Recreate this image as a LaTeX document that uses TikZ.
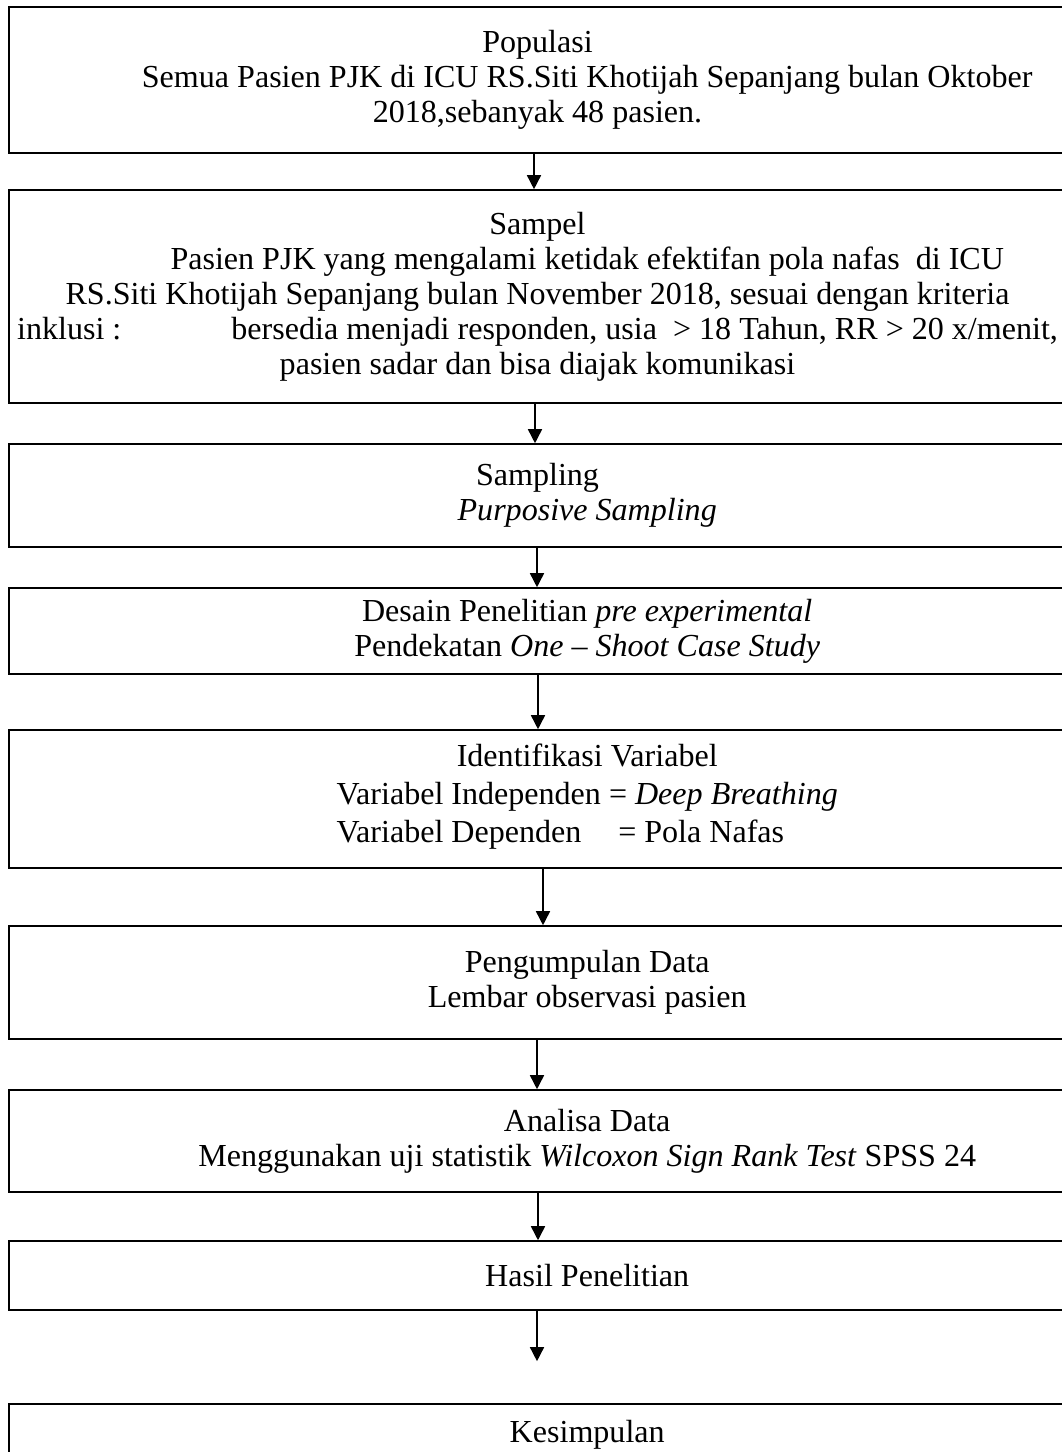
\documentclass[tikz,border=0pt]{standalone}
\usepackage{fontspec}
\setmainfont{Liberation Serif}
\usepackage{tikz}
\usetikzlibrary{positioning, arrows.meta}

\newcommand{\geser}{\hspace*{3.1em}}

\begin{document}
\begin{tikzpicture}[x=0.025cm, y=-0.025cm,
        kotak/.style={draw, line width=1.1pt, minimum width=26.425cm, inner sep=0pt, align=center,
            font=\fontsize{22.8pt}{24.9pt}\selectfont},
        panah/.style={-{Triangle[length=10pt, width=10pt]}, line width=1.1pt}]
        \useasboundingbox (0,0) rectangle (1062,1452);
        \clip (0,0) rectangle (1062,1452);
        % the boxes, top to bottom
        \node[kotak, minimum height=3.65cm] (populasi) at (537.5,80) {Populasi\\
            \geser Semua Pasien PJK di ICU RS.Siti Khotijah Sepanjang bulan Oktober\\
            2018,sebanyak 48 pasien.};
        \node[kotak, minimum height=5.325cm] (sampel) at (537.5,296.5) {Sampel\\
            \geser Pasien PJK yang mengalami ketidak efektifan pola nafas~ di ICU\\
            RS.Siti Khotijah Sepanjang bulan November 2018, sesuai dengan kriteria\\
            inklusi :\hspace{3.1em} bersedia menjadi responden, usia~ > 18 Tahun, RR > 20 x/menit,\\
            pasien sadar dan bisa diajak komunikasi};
        \node[kotak, minimum height=2.575cm] (sampling) at (537.5,495.5) {Sampling\\
            \geser\textit{Purposive Sampling}};
        \node[kotak, minimum height=2.15cm] (desain) at (537.5,631) {\geser Desain Penelitian \textit{pre experimental}\\
            \geser Pendekatan \textit{One -- Shoot Case Study}};
        \node[kotak, minimum height=3.45cm, font=\fontsize{22.8pt}{27pt}\selectfont] (variabel) at (537.5,799) {\geser Identifikasi Variabel\\
            \geser\begin{tabular}[t]{@{}l@{}}
                Variabel Independen = \textit{Deep Breathing}\\
                Variabel Dependen\hspace{1.15em}= Pola Nafas
            \end{tabular}};
        \node[kotak, minimum height=2.825cm] (data) at (537.5,982.5) {\geser Pengumpulan Data\\
            \geser Lembar observasi pasien};
        \node[kotak, minimum height=2.55cm] (analisa) at (537.5,1141) {\geser Analisa Data\\
            \geser Menggunakan uji statistik \textit{Wilcoxon Sign Rank Test} SPSS 24};
        \node[kotak, minimum height=1.725cm] (hasil) at (537.5,1275.5) {\geser Hasil Penelitian};
        \node[kotak, minimum height=1.55cm] (simpulan) at (537.5,1435) {\geser Kesimpulan};

        % arrows between the boxes
        \draw[panah] (534,0 |- populasi.south) -- (534,0 |- sampel.north);
        \draw[panah] (535,0 |- sampel.south) -- (535,0 |- sampling.north);
        \draw[panah] (537,0 |- sampling.south) -- (537,0 |- desain.north);
        \draw[panah] (538,0 |- desain.south) -- (538,0 |- variabel.north);
        \draw[panah] (543,0 |- variabel.south) -- (543,0 |- data.north);
        \draw[panah] (537,0 |- data.south) -- (537,0 |- analisa.north);
        \draw[panah] (538,0 |- analisa.south) -- (538,0 |- hasil.north);
        \draw[panah, shorten >=29.9pt] (537,0 |- hasil.south) -- (537,0 |- simpulan.north);
    \end{tikzpicture}
\end{document}
